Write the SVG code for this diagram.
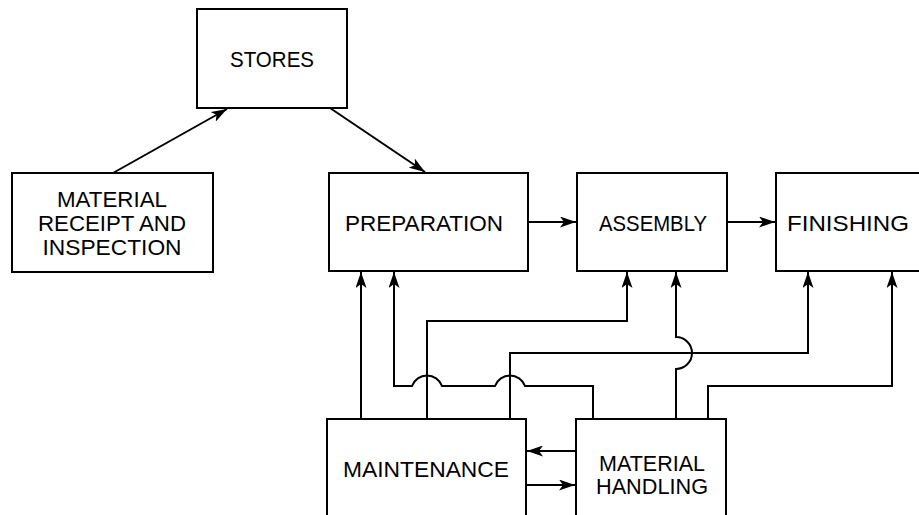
<svg xmlns="http://www.w3.org/2000/svg" width="919" height="515" viewBox="0 0 919 515">
<style>
.box{fill:#fff;stroke:#000;stroke-width:2}
.lbl{font-family:"Liberation Sans",Arial,sans-serif;font-size:22px;fill:#000;text-anchor:middle}
.con{fill:none;stroke:#000;stroke-width:2}
</style>
<defs>
<marker id="ah" viewBox="0 0 16 11" refX="16" refY="5.5" markerWidth="16" markerHeight="11" markerUnits="userSpaceOnUse" orient="auto">
<path d="M0,0 L16,5.5 L0,11 L4,5.5 Z" fill="#000"/>
</marker>
</defs>
<rect width="919" height="515" fill="#fff"/>
<g id="stores"><rect class="box" x="197" y="9" width="150" height="99"/><text class="lbl" x="272" y="67" textLength="84" lengthAdjust="spacingAndGlyphs">STORES</text></g>
<g id="receipt"><rect class="box" x="12" y="173" width="201" height="99"/>
<text class="lbl" x="112" y="207" textLength="110" lengthAdjust="spacingAndGlyphs">MATERIAL</text>
<text class="lbl" x="112" y="231" textLength="148" lengthAdjust="spacingAndGlyphs">RECEIPT AND</text>
<text class="lbl" x="112" y="255" textLength="139" lengthAdjust="spacingAndGlyphs">INSPECTION</text></g>
<g id="preparation"><rect class="box" x="329" y="173" width="199" height="98"/><text class="lbl" x="424" y="231" textLength="158" lengthAdjust="spacingAndGlyphs">PREPARATION</text></g>
<g id="assembly"><rect class="box" x="577" y="173" width="150" height="98"/><text class="lbl" x="653" y="231" textLength="108" lengthAdjust="spacingAndGlyphs">ASSEMBLY</text></g>
<g id="finishing"><rect class="box" x="776" y="173" width="160" height="98"/><text class="lbl" x="848" y="231" textLength="122" lengthAdjust="spacingAndGlyphs">FINISHING</text></g>
<g id="maintenance"><rect class="box" x="327" y="419" width="199" height="120"/><text class="lbl" x="426" y="477" textLength="166" lengthAdjust="spacingAndGlyphs">MAINTENANCE</text></g>
<g id="handling"><rect class="box" x="576" y="419" width="150" height="120"/>
<text class="lbl" x="652" y="471" textLength="106" lengthAdjust="spacingAndGlyphs">MATERIAL</text>
<text class="lbl" x="652" y="494" textLength="112" lengthAdjust="spacingAndGlyphs">HANDLING</text></g>
<g id="connectors">
<path class="con" marker-end="url(#ah)" d="M113,173 L227,109"/>
<path class="con" marker-end="url(#ah)" d="M330,108 L425,172"/>
<path class="con" marker-end="url(#ah)" d="M528,222 L576,222"/>
<path class="con" marker-end="url(#ah)" d="M727,222 L775,222"/>
<path class="con" marker-end="url(#ah)" d="M576,451 L527,451"/>
<path class="con" marker-end="url(#ah)" d="M526,485 L575,485"/>
<path class="con" marker-end="url(#ah)" d="M361,419 L361,272"/>
<path class="con" marker-end="url(#ah)" d="M593,419 L593,386 L525,386 A16,16 0 0 0 495,386 L442,386 A16,16 0 0 0 412,386 L394,386 L394,272"/>
<path class="con" marker-end="url(#ah)" d="M427,419 L427,321 L627,321 L627,272"/>
<path class="con" marker-end="url(#ah)" d="M510,419 L510,353 L808,353 L808,272"/>
<path class="con" marker-end="url(#ah)" d="M676,419 L676,369 A16,16 0 0 0 676,337 L676,272"/>
<path class="con" marker-end="url(#ah)" d="M708,419 L708,386 L892,386 L892,272"/>
</g>
</svg>
